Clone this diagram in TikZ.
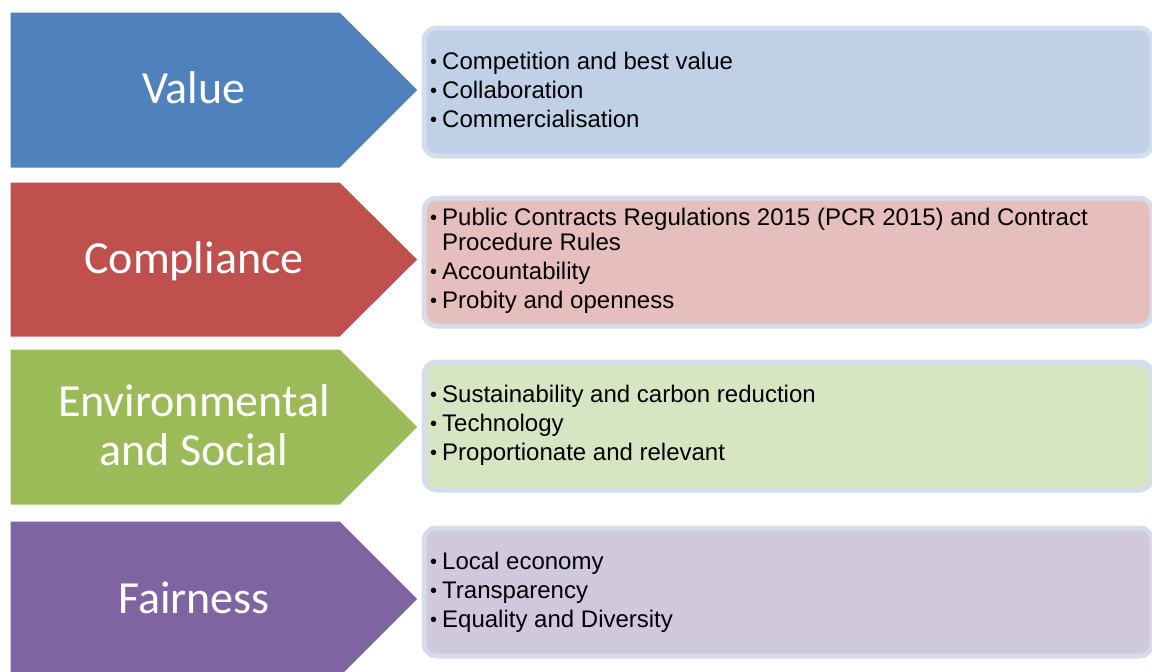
\documentclass[tikz,border=0pt]{standalone}
\usepackage{fontspec}
\setmainfont{Liberation Sans}
\newfontfamily\chevfont{Carlito}

\definecolor{valueBlue}{HTML}{4F81BD}
\definecolor{complyRed}{HTML}{C0504D}
\definecolor{envGreen}{HTML}{9BBB59}
\definecolor{fairPurple}{HTML}{8064A2}
\definecolor{valueTint}{HTML}{C0D1E7}
\definecolor{complyTint}{HTML}{E6BEBE}
\definecolor{envTint}{HTML}{D8E5C2}
\definecolor{fairTint}{HTML}{D0C8DD}
\definecolor{panelRim}{HTML}{D5DCEC}

% one bullet point with a hanging indent
\newcommand\pfirst[1]{\noindent\hangindent=11pt\hangafter=1
  \makebox[11pt][l]{\hspace{-1pt}\raisebox{1pt}{\fontsize{20}{20}\selectfont\textbullet}}#1\par}
\newcommand\pitem[1]{\vskip4pt\pfirst{#1}}

\tikzset{
  chev/.style={fill=#1, draw=white, line width=1pt},
  panel/.style={fill=#1, draw=panelRim, line width=5pt, rounded corners=12.5pt,
    rectangle, minimum width=728pt, minimum height=128pt, anchor=north west, inner sep=0pt},
  chevlabel/.style={anchor=base, inner sep=0pt, text=white},
  bullets/.style={anchor=base west, inner sep=0pt, text=black},
}

\newcommand\chevtext[1]{\parbox[t]{330pt}{\centering\chevfont\fontsize{46}{49}\selectfont #1}}
\newcommand\bullettext[1]{\parbox[t]{700pt}{\fontsize{24}{25}\selectfont #1}}

\begin{document}
\begin{tikzpicture}[x=1pt, y=-1pt]
\useasboundingbox (0,0) rectangle (1152,672);

% rounded panels holding the bullet lists
\node (p1) [panel=valueTint]  at (421.5, 25.5) {};
\node (p2) [panel=complyTint] at (421.5,195.5) {};
\node (p3) [panel=envTint]    at (421.5,359.5) {};
\node (p4) [panel=fairTint]   at (421.5,525.5) {};

% chevrons pointing into the panels
\filldraw[chev=valueBlue]  (10, 12) -- (340, 12) -- (418, 90) -- (340,168) -- (10,168) -- cycle;
\filldraw[chev=complyRed]  (10,182) -- (340,182) -- (418,259.5) -- (340,337) -- (10,337) -- cycle;
\filldraw[chev=envGreen]   (10,349) -- (340,349) -- (418,427) -- (340,505) -- (10,505) -- cycle;
\filldraw[chev=fairPurple] (10,521) -- (340,521) -- (418,599) -- (340,677) -- (10,677) -- cycle;

% chevron captions
\node (c1) [chevlabel] at (194,103) {\chevtext{Value}};
\node (c2) [chevlabel] at (194,273) {\chevtext{Compliance}};
\node (c3) [chevlabel] at (194,416) {\chevtext{Environmental\\and Social}};
\node (c4) [chevlabel] at (194,613) {\chevtext{Fairness}};

% bullet lists
\node (b1) [bullets] at (431,69) {\bullettext{%
  \pfirst{Competition and best value}%
  \pitem{Collaboration}%
  \pitem{Commercialisation}}};
\node (b2) [bullets] at (431,225) {\bullettext{%
  \pfirst{Public Contracts Regulations 2015 (PCR 2015) and Contract\newline Procedure Rules}%
  \pitem{Accountability}%
  \pitem{Probity and openness}}};
\node (b3) [bullets] at (431,402) {\bullettext{%
  \pfirst{Sustainability and carbon reduction}%
  \pitem{Technology}%
  \pitem{Proportionate and relevant}}};
\node (b4) [bullets] at (431,569) {\bullettext{%
  \pfirst{Local economy}%
  \pitem{Transparency}%
  \pitem{Equality and Diversity}}};
\end{tikzpicture}
\end{document}
